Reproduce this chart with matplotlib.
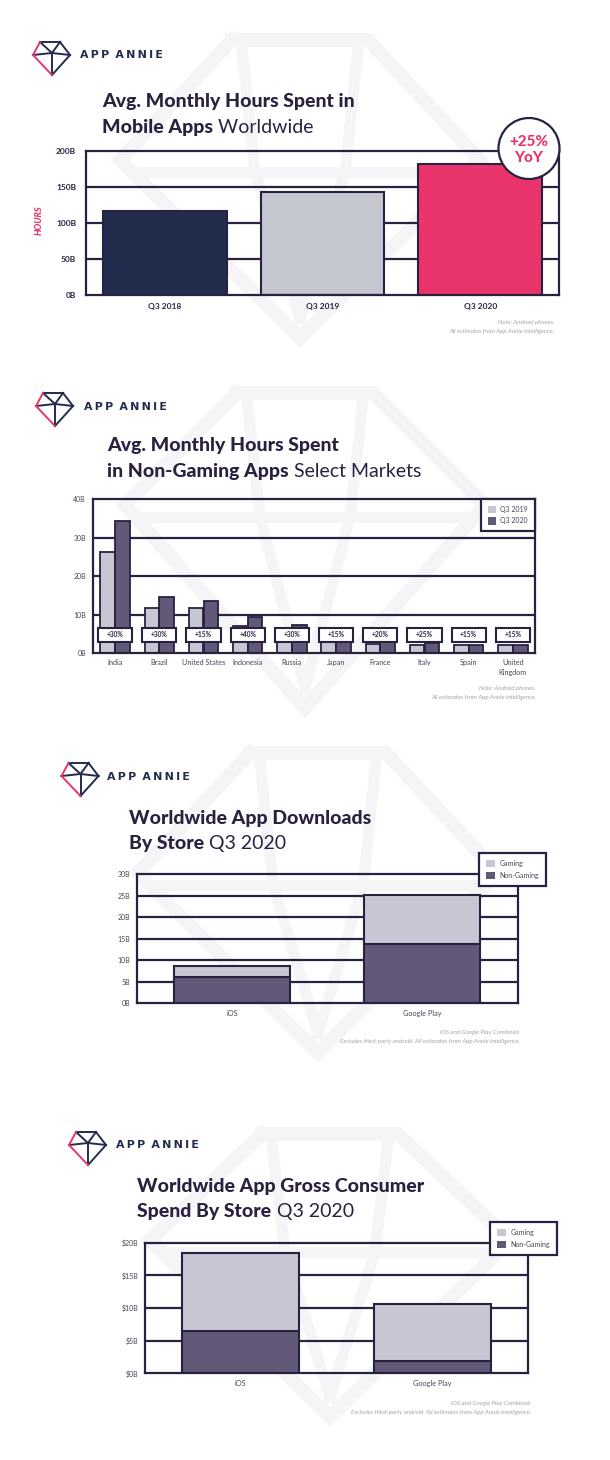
import matplotlib

matplotlib.use("Agg")
import matplotlib.pyplot as plt
from matplotlib.patches import Ellipse, Patch, Rectangle

plt.rcParams["font.family"] = ["Lato", "DejaVu Sans"]

W, H = 610, 1460

# panel 1 - avg monthly hours worldwide
years = ["Q3 2018", "Q3 2019", "Q3 2020"]
hours_worldwide = [117, 143.5, 181.5]
hours_ticks = [0, 50, 100, 150, 200]

# panel 2 - non-gaming hours by market
markets = ["India", "Brazil", "United States", "Indonesia", "Russia", "Japan",
           "France", "Italy", "Spain", "United\nKingdom"]
hours_2019 = [26.2, 11.6, 11.6, 7.0, 5.6, 4.4, 2.3, 2.2, 2.0, 2.0]
hours_2020 = [34.3, 14.6, 13.5, 9.4, 7.3, 5.1, 2.8, 2.5, 2.2, 2.2]
growth = ["+30%", "+30%", "+15%", "+40%", "+30%", "+15%", "+20%", "+25%", "+15%", "+15%"]
market_ticks = [0, 10, 20, 30, 40]

# panel 3 - downloads by store
stores = ["iOS", "Google Play"]
downloads_nongaming = [6.0, 13.8]
downloads_gaming = [2.7, 11.3]
download_ticks = [0, 5, 10, 15, 20, 25, 30]

# panel 4 - consumer spend by store
spend_nongaming = [6.5, 1.9]
spend_gaming = [11.9, 8.7]
spend_ticks = [0, 5, 10, 15, 20]

DARK = "#2a2140"
NAVY = "#222c4c"
GRAY_BAR = "#c4c6d0"
PINK = "#e9356c"
LIGHT = "#c9c6d3"
PURPLE = "#625877"
NOTE = "#a3a3ad"
TICK = "#4a4458"
WM = "#f5f5f7"

fig = plt.figure(figsize=(W / 100, H / 100), dpi=100)
fig.patch.set_facecolor("white")

bg = fig.add_axes([0, 0, 1, 1], zorder=0)
bg.set_xlim(0, W)
bg.set_ylim(H, 0)
bg.axis("off")

over = fig.add_axes([0, 0, 1, 1], zorder=5)
over.set_xlim(0, W)
over.set_ylim(H, 0)
over.axis("off")


def watermark(cx, top, mid, bottom, half_top=68, half_mid=180):
    # faint gem outline behind each panel
    outline = [(cx - half_top, top), (cx + half_top, top), (cx + half_mid, mid),
               (cx, bottom), (cx - half_mid, mid), (cx - half_top, top)]
    xs, ys = zip(*outline)
    bg.plot(xs, ys, color=WM, lw=10, solid_joinstyle="miter", zorder=0)
    bg.plot([cx - half_mid + 20, cx + half_mid - 20], [mid + 12, mid + 12], color=WM, lw=8, zorder=0)
    bg.plot([cx - half_top + 10, cx - 45, cx], [top + 8, mid + 12, bottom - 20], color=WM, lw=8, zorder=0)
    bg.plot([cx + half_top - 10, cx + 45, cx], [top + 8, mid + 12, bottom - 20], color=WM, lw=8, zorder=0)


def logo(x0, y0, tx, ty):
    w, h = 37, 33
    pts = {"tl": (x0 + 7, y0), "tr": (x0 + 27, y0), "r": (x0 + w, y0 + 13),
           "b": (x0 + 19, y0 + h), "l": (x0, y0 + 13), "c": (x0 + 19, y0 + 11)}
    navy_segs = [("tl", "tr"), ("tr", "r"), ("r", "b"), ("tl", "c"), ("tr", "c"),
                 ("c", "b"), ("l", "c"), ("c", "r")]
    for a, b in navy_segs:
        bg.plot([pts[a][0], pts[b][0]], [pts[a][1], pts[b][1]], color=NAVY, lw=1.4, zorder=3)
    for a, b in [("l", "tl"), ("l", "b")]:
        bg.plot([pts[a][0], pts[b][0]], [pts[a][1], pts[b][1]], color=PINK, lw=1.4, zorder=3)
    bg.text(tx, ty, "A\u2009P\u2009P\u2009 A\u2009N\u2009N\u2009I\u2009E", family=["DejaVu Sans"],
            fontsize=7.9, fontweight="bold", color=NAVY, va="center", ha="left", zorder=3)


def title(x, y1, y2, line1, bold2, light2, size=14):
    bg.text(x, y1, line1, fontsize=size, fontweight="black", color=DARK, va="center", ha="left")
    t = bg.text(x, y2, bold2, fontsize=size, fontweight="black", color=DARK, va="center", ha="left")
    bg.annotate(" " + light2, xy=(1, 0), xycoords=t, fontsize=size, fontweight="normal",
                color=DARK, va="bottom", ha="left")


def notes(x, y, lines):
    for i, line in enumerate(lines):
        bg.text(x, y + 9 * i, line, fontsize=4.4, style="italic", color=NOTE, ha="right", va="center")


def panel_axes(left, top, right, bottom):
    ax = fig.add_axes([left / W, 1 - bottom / H, (right - left) / W, (bottom - top) / H], zorder=2)
    ax.set_facecolor("none")
    for s in ax.spines.values():
        s.set_color(DARK)
        s.set_linewidth(1.6)
    ax.tick_params(length=0)
    return ax


def grid(ax, ticks):
    for t in ticks[1:-1]:
        ax.axhline(t, color=DARK, lw=1.6, zorder=0.5)


def store_legend(ax, anchor_x, anchor_y):
    handles = [Patch(facecolor=LIGHT, edgecolor="none", label="Gaming"),
               Patch(facecolor=PURPLE, edgecolor="none", label="Non-Gaming")]
    leg = ax.legend(handles=handles, loc="upper right", bbox_to_anchor=(anchor_x / W, 1 - anchor_y / H),
                    bbox_transform=fig.transFigure, frameon=True, fancybox=False, edgecolor=DARK,
                    facecolor="white", framealpha=1, fontsize=5, handlelength=1.2, handleheight=1.2,
                    handletextpad=0.7, borderpad=1.0, labelspacing=0.7, borderaxespad=0)
    leg.get_frame().set_linewidth(1.6)
    for txt in leg.get_texts():
        txt.set_color(TICK)
    leg.set_zorder(6)


# ---------------- panel 1 ----------------
watermark(300, 40, 160, 338)
logo(33, 42, 80, 55)
title(102, 101.7, 127.3, "Avg. Monthly Hours Spent in", "Mobile Apps", "Worldwide")

ax1 = panel_axes(86, 151, 559, 295)
grid(ax1, hours_ticks)
ax1.bar(range(len(years)), hours_worldwide, width=0.785, color=[NAVY, GRAY_BAR, PINK],
        edgecolor=DARK, linewidth=1.5, zorder=2)
ax1.set_xlim(-0.5, len(years) - 0.5)
ax1.set_ylim(hours_ticks[0], hours_ticks[-1])
ax1.set_yticks(hours_ticks)
ax1.set_yticklabels([f"{t}B" for t in hours_ticks], fontsize=6, fontweight="bold", color=DARK)
ax1.set_xticks(range(len(years)))
ax1.set_xticklabels(years, fontsize=6, fontweight="bold", color=DARK)
ax1.tick_params(axis="y", pad=7)
ax1.tick_params(axis="x", pad=6)
bg.text(39, 220, "HOURS", rotation=90, fontsize=6.5, fontweight="black", style="italic",
        color=PINK, ha="center", va="center")

over.add_patch(Ellipse((529, 148.5), 61, 61, facecolor="white", edgecolor=DARK, lw=1.6, zorder=6))
over.text(529, 141.5, "+25%", fontsize=11, fontweight="black", color=PINK, ha="center", va="center", zorder=7)
over.text(529, 158, "YoY", fontsize=11, fontweight="black", color=PINK, ha="center", va="center", zorder=7)
notes(554.5, 322.7, ["Note: Android phones.", "All estimates from App Annie Intelligence."])

# ---------------- panel 2 ----------------
watermark(305, 393, 505, 708)
logo(36, 393, 84, 407)
title(107, 445, 471.7, "Avg. Monthly Hours Spent", "in Non-Gaming Apps", "Select Markets")

ax2 = panel_axes(93, 499, 535, 653)
grid(ax2, market_ticks)
xs = list(range(len(markets)))
ax2.bar([x - 0.167 for x in xs], hours_2019, width=0.333, color=LIGHT, edgecolor=DARK,
        linewidth=1.3, zorder=2, label="Q3 2019")
ax2.bar([x + 0.167 for x in xs], hours_2020, width=0.333, color=PURPLE, edgecolor=DARK,
        linewidth=1.3, zorder=2, label="Q3 2020")
for x, g in zip(xs, growth):
    ax2.add_patch(Rectangle((x - 0.385, 2.9), 0.77, 3.6, facecolor="white", edgecolor=DARK,
                            lw=1.5, zorder=3))
    ax2.text(x, 4.7, g, fontsize=4.8, fontweight="bold", color=DARK, ha="center", va="center", zorder=4)
ax2.set_xlim(-0.5, len(markets) - 0.5)
ax2.set_ylim(market_ticks[0], market_ticks[-1])
ax2.set_yticks(market_ticks)
ax2.set_yticklabels([f"{t}B" for t in market_ticks], fontsize=5, color=TICK)
ax2.set_xticks(xs)
ax2.set_xticklabels(markets, fontsize=5.2, color=TICK, linespacing=1.5)
ax2.tick_params(axis="y", pad=5)
ax2.tick_params(axis="x", pad=4)
leg2 = ax2.legend(loc="upper right", bbox_to_anchor=(1, 1), borderaxespad=0, frameon=True,
                  fancybox=False, edgecolor=DARK, facecolor="white", framealpha=1, fontsize=5,
                  handlelength=1.2, handleheight=1.2, handletextpad=0.6, borderpad=1.0,
                  labelspacing=0.6)
leg2.get_frame().set_linewidth(1.6)
for h in leg2.legend_handles:
    h.set_edgecolor("none")
for txt in leg2.get_texts():
    txt.set_color(TICK)
notes(536, 688, ["Note: Android phones.", "All estimates from App Annie Intelligence."])

# ---------------- panel 3 ----------------
watermark(318, 753, 873, 1053)
logo(61.5, 763, 107, 776.7)
title(129, 818.3, 843.3, "Worldwide App Downloads", "By Store", "Q3 2020")

ax3 = panel_axes(137, 874, 517.5, 1003.3)
grid(ax3, download_ticks)
sx = list(range(len(stores)))
ax3.bar(sx, downloads_nongaming, width=0.61, color=PURPLE, edgecolor=DARK, linewidth=1.5, zorder=2)
ax3.bar(sx, downloads_gaming, bottom=downloads_nongaming, width=0.61, color=LIGHT, edgecolor=DARK,
        linewidth=1.5, zorder=2)
ax3.set_xlim(-0.5, len(stores) - 0.5)
ax3.set_ylim(download_ticks[0], download_ticks[-1])
ax3.set_yticks(download_ticks)
ax3.set_yticklabels([f"{t}B" for t in download_ticks], fontsize=5, color=TICK)
ax3.set_xticks(sx)
ax3.set_xticklabels(stores, fontsize=5.3, color=TICK)
ax3.tick_params(axis="y", pad=5)
ax3.tick_params(axis="x", pad=5)
store_legend(ax3, 546, 852.7)
notes(520, 1032.7, ["iOS and Google Play Combined.",
                    "Excludes third-party android. All estimates from App Annie Intelligence."])

# ---------------- panel 4 ----------------
watermark(330, 1134, 1240, 1417)
logo(69, 1132, 115.6, 1145)
title(137.4, 1186.7, 1211.7, "Worldwide App Gross Consumer", "Spend By Store", "Q3 2020")

ax4 = panel_axes(145, 1242.7, 528, 1373.3)
grid(ax4, spend_ticks)
ax4.bar(sx, spend_nongaming, width=0.61, color=PURPLE, edgecolor=DARK, linewidth=1.5, zorder=2)
ax4.bar(sx, spend_gaming, bottom=spend_nongaming, width=0.61, color=LIGHT, edgecolor=DARK,
        linewidth=1.5, zorder=2)
ax4.set_xlim(-0.5, len(stores) - 0.5)
ax4.set_ylim(spend_ticks[0], spend_ticks[-1])
ax4.set_yticks(spend_ticks)
ax4.set_yticklabels([f"${t}B" for t in spend_ticks], fontsize=5, color=TICK)
ax4.set_xticks(sx)
ax4.set_xticklabels(stores, fontsize=5.3, color=TICK)
ax4.tick_params(axis="y", pad=5)
ax4.tick_params(axis="x", pad=5)
store_legend(ax4, 557, 1221.7)
notes(531, 1403.3, ["iOS and Google Play Combined.",
                    "Excludes third-party android. All estimates from App Annie Intelligence."])

fig.savefig("out.png", dpi=100)
